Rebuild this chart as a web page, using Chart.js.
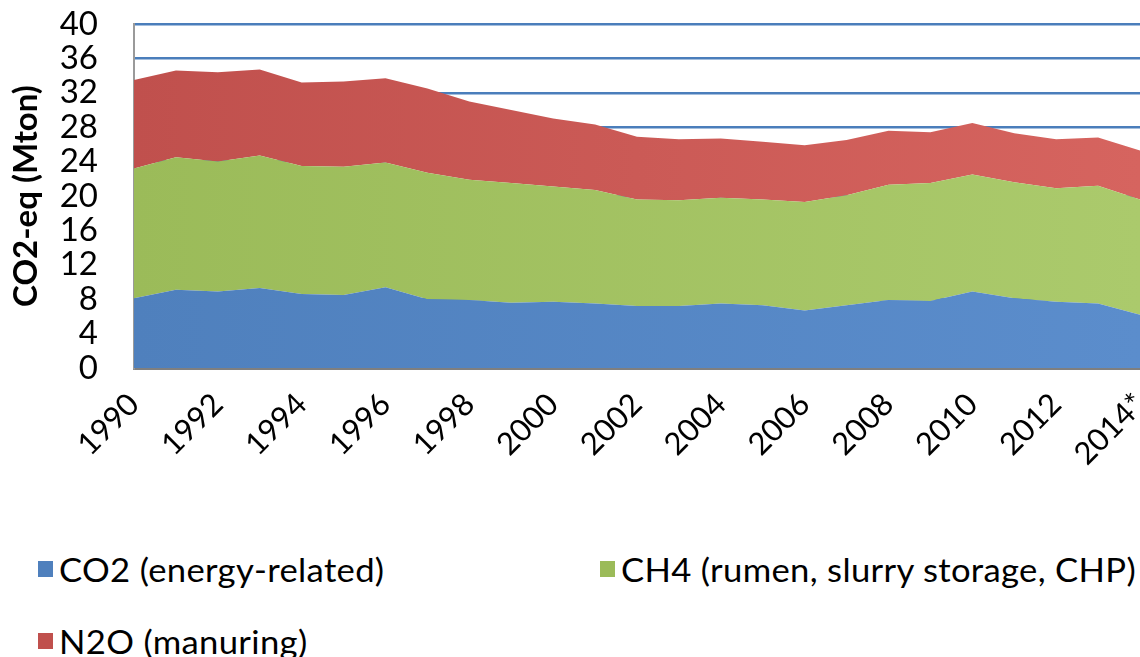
<!DOCTYPE html>
<html>
<head>
<meta charset="utf-8">
<script src="https://cdn.jsdelivr.net/npm/chart.js@4/dist/chart.umd.min.js"></script>
<style>
  html, body { margin: 0; padding: 0; background: #fff; overflow: hidden; }
  #wrap { position: relative; width: 1140px; height: 657px; }
  #box { position: absolute; left: 0; top: 0; width: 1140px; height: 490px; }
  #legend {
    position: absolute; left: 38px; top: 550px;
    display: grid; grid-template-columns: 562px 540px; row-gap: 34px;
    font-family: Lato, sans-serif; font-size: 33px; color: #000;
  }
  #legend .item { display: flex; align-items: center; white-space: nowrap; height: 38px; }
  #legend .sw { width: 15px; height: 16px; margin-right: 6px; flex: none; }
  #legend .txt { display: inline-block; transform: scaleX(1.05); transform-origin: left center; letter-spacing: 0.3px; }
</style>
</head>
<body>
<div id="wrap">
  <div id="box"><canvas id="chart"></canvas></div>
  <div id="legend"></div>
</div>
<script>
const years = ["1990","1991","1992","1993","1994","1995","1996","1997","1998","1999",
  "2000","2001","2002","2003","2004","2005","2006","2007","2008","2009",
  "2010","2011","2012","2013","2014*"];

const co2 = [8.1, 9.1, 8.9, 9.3, 8.6, 8.5, 9.4, 8.0, 7.9, 7.6, 7.7, 7.5, 7.2,
  7.2, 7.5, 7.3, 6.7, 7.3, 7.9, 7.8, 8.9, 8.1, 7.7, 7.5, 6.2];
const ch4 = [15.1, 15.4, 15.1, 15.4, 14.9, 14.9, 14.5, 14.7, 14.0, 13.9, 13.4, 13.2, 12.4,
  12.3, 12.3, 12.3, 12.6, 12.8, 13.4, 13.7, 13.6, 13.5, 13.2, 13.7, 13.4];
const n2o = [10.3, 10.1, 10.4, 10.0, 9.7, 9.9, 9.8, 9.8, 9.1, 8.5, 7.9, 7.6, 7.3,
  7.1, 6.9, 6.7, 6.6, 6.4, 6.3, 5.9, 6.0, 5.7, 5.7, 5.6, 5.7];

const seriesNames = ["CO2 (energy-related)", "CH4 (rumen, slurry storage, CHP)", "N2O (manuring)"];
const yMax = 40;
const yStep = 4;

// left / right colour of each area (Excel-style soft gradient)
const shades = [
  ["#4f80bd", "#5b8dcc"],
  ["#9bbb59", "#abca6c"],
  ["#c0504d", "#d6645f"]
];

function areaFill(i) {
  return (ctx) => {
    const area = ctx.chart.chartArea;
    if (!area) return shades[i][0];
    const g = ctx.chart.ctx.createLinearGradient(area.left, 0, area.right, 0);
    g.addColorStop(0, shades[i][0]);
    g.addColorStop(1, shades[i][1]);
    return g;
  };
}

const values = [co2, ch4, n2o];
const datasets = values.map((v, i) => ({
  label: seriesNames[i],
  data: v,
  backgroundColor: areaFill(i),
  borderWidth: 0,
  pointRadius: 0,
  fill: i === 0 ? "origin" : "-1"
}));

new Chart(document.getElementById("chart"), {
  type: "line",
  data: { labels: years, datasets },
  options: {
    responsive: true,
    maintainAspectRatio: false,
    animation: false,
    layout: { padding: { left: 0, right: 0, top: 24, bottom: 0 } },
    plugins: { legend: { display: false }, tooltip: { enabled: false } },
    scales: {
      x: {
        offset: false,
        grid: { display: false },
        border: { color: "#7f7f7f", width: 3 },
        ticks: {
          autoSkip: false,
          minRotation: 45,
          maxRotation: 45,
          padding: 10,
          color: "#000",
          font: { family: "Lato", size: 31 },
          callback: (v, i) => (i % 2 === 0 ? years[i] : "")
        },
        afterFit: (axis) => {
          axis.height = 122;
          axis.paddingLeft = 0;
          axis.paddingRight = 0;
        }
      },
      y: {
        stacked: true,
        min: 0,
        max: yMax,
        grid: {
          color: (c) => (c.tick && c.tick.value === 0 ? "rgba(0,0,0,0)" : "#4a7ebb"),
          lineWidth: 2.5,
          drawTicks: false
        },
        border: { color: "#9a9a9a", width: 2 },
        ticks: {
          stepSize: yStep,
          autoSkip: false,
          padding: 36,
          color: "#000",
          font: { family: "Lato", size: 33 }
        },
        title: {
          display: true,
          text: "CO2-eq (Mton)",
          color: "#000",
          padding: { top: 7, bottom: 0 },
          font: { family: "Lato", size: 33, weight: "bold" }
        },
        afterFit: (axis) => {
          axis.width = 134;
          axis.paddingTop = 0;
          axis.paddingBottom = 0;
        }
      }
    }
  }
});

// legend below the chart
const legend = document.getElementById("legend");
seriesNames.forEach((name, i) => {
  const item = document.createElement("div");
  item.className = "item";
  item.innerHTML = '<span class="sw" style="background:' + shades[i][0] + '"></span><span class="txt">' + name + '</span>';
  legend.appendChild(item);
});
</script>
</body>
</html>
